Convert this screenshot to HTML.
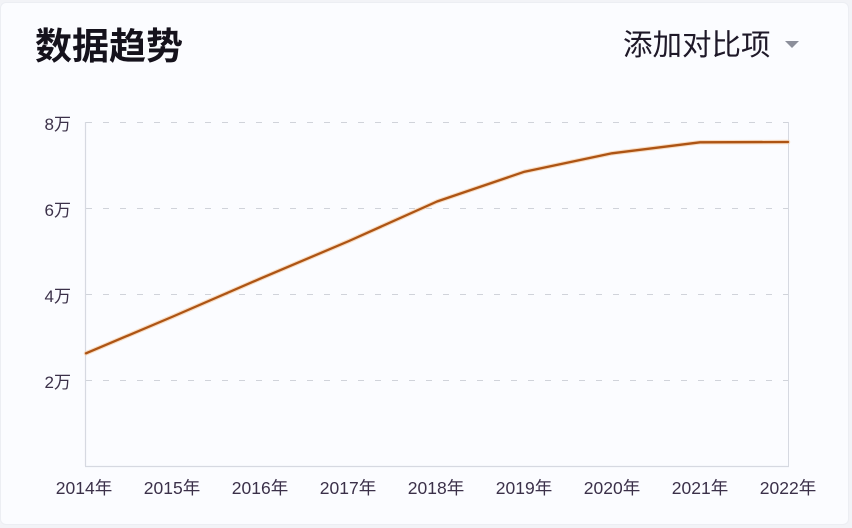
<!DOCTYPE html>
<html>
<head>
<meta charset="utf-8">
<style>
  html,body{margin:0;padding:0;background:#f2f3f7;}
  body{width:852px;height:528px;overflow:hidden;position:relative;}
  .card{position:absolute;left:0;top:2px;width:849px;height:523px;background:#fbfcff;border:1px solid #eceef3;border-radius:6px;box-sizing:border-box;}
  svg{position:absolute;left:0;top:0;}
  text{font-family:"Liberation Sans","Noto Sans CJK SC",sans-serif;}
</style>
</head>
<body>
<div class="card"></div>
<svg width="852" height="528" viewBox="0 0 852 528" xmlns="http://www.w3.org/2000/svg">
  <text x="35" y="59" font-size="37" font-weight="bold" fill="#15121c">数据趋势</text>
  <text x="623" y="55" font-size="29.5" fill="#1e1828">添加对比项</text>
  <polygon points="785,41 799,41 792,48" fill="#8c8f9b"/>

  <!-- grid -->
  <g stroke="#d0d3da" stroke-width="1" stroke-dasharray="6,11">
    <line x1="86" y1="122.5" x2="788" y2="122.5"/>
    <line x1="86" y1="208.5" x2="788" y2="208.5"/>
    <line x1="86" y1="294.5" x2="788" y2="294.5"/>
    <line x1="86" y1="380.5" x2="788" y2="380.5"/>
  </g>
  <line x1="85.5" y1="122" x2="85.5" y2="466" stroke="#d6d9e1" stroke-width="1.2"/>
  <line x1="788.5" y1="122" x2="788.5" y2="466" stroke="#d6d9e1" stroke-width="1"/>
  <line x1="85" y1="466.5" x2="789" y2="466.5" stroke="#d6d9e1" stroke-width="1.2"/>

  <!-- y labels -->
  <g font-size="17" fill="#3b3049" text-anchor="end">
    <text x="71" y="130">8万</text>
    <text x="71" y="216">6万</text>
    <text x="71" y="302">4万</text>
    <text x="71" y="388">2万</text>
  </g>
  <!-- x labels -->
  <g font-size="17.5" fill="#3b3049" text-anchor="middle">
    <text x="84" y="494">2014年</text>
    <text x="172" y="494">2015年</text>
    <text x="260" y="494">2016年</text>
    <text x="348" y="494">2017年</text>
    <text x="436" y="494">2018年</text>
    <text x="524" y="494">2019年</text>
    <text x="612" y="494">2020年</text>
    <text x="700" y="494">2021年</text>
    <text x="788" y="494">2022年</text>
  </g>

  <!-- series -->
  <polyline fill="none" stroke="#f6c79a" stroke-width="4.5" stroke-linejoin="round" stroke-linecap="round" opacity="0.6"
    points="86,353.3 173,316.5 261,278.3 349,241 437,201.5 524.5,171.7 612,153.3 700,142.3 788,142"/>
  <polyline fill="none" stroke="#ad5414" stroke-width="2.3" stroke-linejoin="round" stroke-linecap="round"
    points="86,353.3 173,316.5 261,278.3 349,241 437,201.5 524.5,171.7 612,153.3 700,142.3 788,142"/>
</svg>
</body>
</html>
